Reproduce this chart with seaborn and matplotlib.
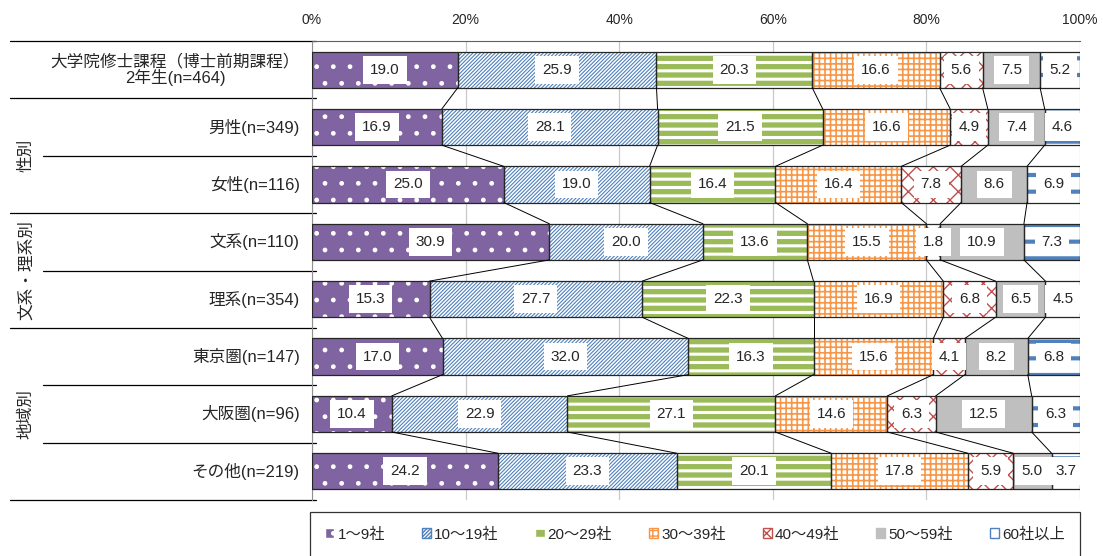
import numpy as np
import pandas as pd
import matplotlib
matplotlib.use("Agg")
import matplotlib.pyplot as plt
from matplotlib.patches import Patch
import seaborn as sns

sns.set_style("white")
plt.rcParams['font.family'] = ['Liberation Sans', 'Noto Sans CJK JP', 'DejaVu Sans']

rows = ["大学院修士課程（博士前期課程）\n2年生(n=464)", "男性(n=349)", "女性(n=116)",
        "文系(n=110)", "理系(n=354)", "東京圏(n=147)", "大阪圏(n=96)", "その他(n=219)"]
groups = ["性別", "文系・理系別", "地域別"]
series = ["1～9社", "10～19社", "20～29社", "30～39社", "40～49社", "50～59社", "60社以上"]

v1 = [19.0, 16.9, 25.0, 30.9, 15.3, 17.0, 10.4, 24.2]
v2 = [25.9, 28.1, 19.0, 20.0, 27.7, 32.0, 22.9, 23.3]
v3 = [20.3, 21.5, 16.4, 13.6, 22.3, 16.3, 27.1, 20.1]
v4 = [16.6, 16.6, 16.4, 15.5, 16.9, 15.6, 14.6, 17.8]
v5 = [5.6, 4.9, 7.8, 1.8, 6.8, 4.1, 6.3, 5.9]
v6 = [7.5, 7.4, 8.6, 10.9, 6.5, 8.2, 12.5, 5.0]
v7 = [5.2, 4.6, 6.9, 7.3, 4.5, 6.8, 6.3, 3.7]

vals = np.array([v1, v2, v3, v4, v5, v6, v7])
pct = vals / vals.sum(axis=0) * 100
cum = pct.cumsum(axis=0)
start = cum - pct

# (face, hatch colour, hatch, hatch lw)
styles = [
    ("#8064A2", "white", ".", 1.0),
    ("white", "#4F81BD", "/////////", 0.8),
    ("#9BBB59", "white", "--", 2.2),
    ("white", "#F79646", "+++", 1.2),
    ("white", "#C0504D", "xx", 1.0),
    ("#BFBFBF", "#BFBFBF", "", 1.0),
    ("white", "#4F81BD", "-", 3.0),
]

fig = plt.figure(figsize=(11.03, 5.56), dpi=100)
ax = fig.add_axes([312 / 1103, 1 - 500 / 556, 768 / 1103, 459 / 556])

bh = 0.63
for k in range(6, -1, -1):
    df = pd.DataFrame({"row": rows, "end": cum[k]})
    face, hc, hatch, hlw = styles[k]
    with plt.rc_context({"hatch.linewidth": hlw}):
        n0 = len(ax.patches)
        sns.barplot(data=df, x="end", y="row", orient="h", color=face, saturation=1,
                    hatch=hatch, edgecolor=hc, linewidth=0, width=bh, errorbar=None,
                    ax=ax, zorder=2)
        for p in ax.patches[n0:]:
            if hasattr(p, "set_hatch_linewidth"):
                p.set_hatch_linewidth(hlw)

# outlines of segments
for k in range(7):
    for i in range(len(rows)):
        ax.add_patch(plt.Rectangle((start[k, i], i - bh / 2), pct[k, i], bh,
                                   facecolor="none", edgecolor="#262626", lw=0.9, zorder=3))

# connector lines
for k in range(6):
    for i in range(len(rows) - 1):
        ax.plot([cum[k, i], cum[k, i + 1]], [i + bh / 2, i + 1 - bh / 2],
                color="black", lw=0.7, zorder=3)

# value labels
for k in range(7):
    for i in range(len(rows)):
        ax.text(start[k, i] + pct[k, i] / 2, i, f"{vals[k, i]:.1f}", ha="center", va="center",
                fontsize=11, zorder=5,
                bbox=dict(boxstyle="square,pad=0.45", facecolor="white", edgecolor="none"))

ax.set_xlim(0, 100)
ax.set_ylim(len(rows) - 0.5, -0.5)
ax.set_xticks(np.arange(0, 101, 20))
ax.set_xticklabels([f"{t}%" for t in range(0, 101, 20)], fontsize=10,
                   family=['Liberation Sans Narrow', 'Liberation Sans'])
ax.xaxis.tick_top()
ax.tick_params(axis="x", length=0, pad=10)
ax.set_xlabel("")
ax.set_ylabel("")
ax.set_yticks(range(len(rows)))
ax.set_yticklabels([])
ax.tick_params(axis="y", length=0)
ax.grid(axis="x", color="#C8C8C8", lw=0.9, zorder=0)
ax.set_axisbelow(True)
for s in ["right", "bottom"]:
    ax.spines[s].set_visible(False)
ax.spines["left"].set_color("#909090")
ax.spines["top"].set_color("#606060")

# row labels
for i, r in enumerate(rows):
    ax.text(-0.016, i, r, transform=ax.get_yaxis_transform(), ha="right", va="center",
            multialignment="center", fontsize=12, linespacing=1.0)

# left separator lines
tr = ax.get_yaxis_transform()
x_full = (10 - 312) / 768
x_part = (43 - 312) / 768
for y in [-0.5, 0.5, 2.5, 4.5, 7.5]:
    ax.plot([x_full, 0.005], [y, y], color="black", lw=0.9, transform=tr, clip_on=False)
for y in [1.5, 3.5, 5.5, 6.5]:
    ax.plot([x_part, 0.005], [y, y], color="black", lw=0.9, transform=tr, clip_on=False)

x_grp = (26 - 312) / 768
for g, yc in zip(groups, [1.5, 3.5, 6.0]):
    ax.text(x_grp, yc, g, transform=tr, rotation=90, ha="center", va="center", fontsize=12)

# legend
handles = [Patch(facecolor=s[0], edgecolor=s[1], hatch=s[2]) for s in styles]
leg = fig.legend(handles, series, loc="upper left", ncol=7, mode="expand",
                 bbox_to_anchor=(310 / 1103, 1 - 512 / 556, 770 / 1103, 0),
                 fontsize=11, handlelength=0.6, handleheight=0.6, handletextpad=0.2,
                 borderpad=1.0, frameon=True, fancybox=False, borderaxespad=0)
leg.get_frame().set_edgecolor("black")
leg.get_frame().set_linewidth(0.9)

fig.savefig("out.png", dpi=100)
